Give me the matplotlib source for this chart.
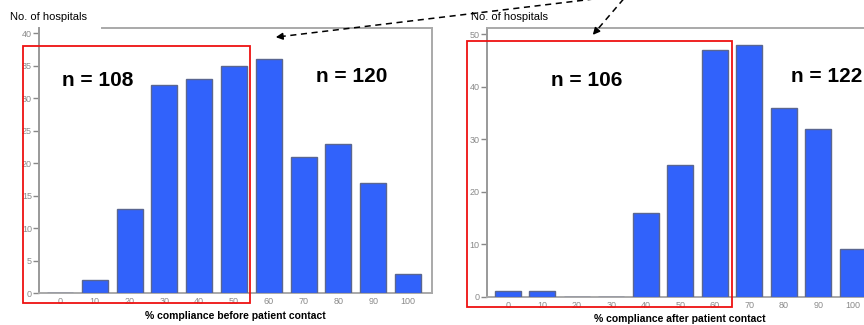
import matplotlib
matplotlib.use("Agg")
import matplotlib.pyplot as plt
from matplotlib import font_manager
from matplotlib.lines import Line2D
from matplotlib.patches import Rectangle

# ---- data ----
categories = [0, 10, 20, 30, 40, 50, 60, 70, 80, 90, 100]
before_counts = [0, 2, 13, 32, 33, 35, 36, 21, 23, 17, 3]
after_counts = [1, 1, 0, 0, 16, 25, 47, 48, 36, 32, 9]
before_ticks = [0, 5, 10, 15, 20, 25, 30, 35, 40]
after_ticks = [0, 10, 20, 30, 40, 50]
before_xlabel = "% compliance before patient contact"
after_xlabel = "% compliance after patient contact"
ylabel = "No. of hospitals"
before_notes = ["n = 108", "n = 120"]
after_notes = ["n = 106", "n = 122"]

names = {f.name for f in font_manager.fontManager.ttflist}
narrow = "Liberation Sans Narrow" if "Liberation Sans Narrow" in names else "Liberation Sans"

W, H = 864, 325
fig = plt.figure(figsize=(W / 100, H / 100), dpi=100)
fig.patch.set_facecolor("white")

def px(x0, y0, x1, y1):
    # pixel box (top-left origin) -> figure fraction
    return [x0 / W, 1 - y1 / H, (x1 - x0) / W, (y1 - y0) / H]

BAR = "#3162fb"
EDGE = "#5a6690"
SPINE = "#a9a9a9"

def make(ax, counts, ticks, ymax, xlabel, xlim):
    x = list(range(len(categories)))
    ax.bar(x, counts, width=0.75, color=BAR, edgecolor=EDGE, linewidth=1.0, zorder=3)
    ax.set_xlim(*xlim)
    ax.set_ylim(0, ymax)
    ax.set_xticks(x)
    ax.set_xticklabels([str(c) for c in categories], fontsize=6.5,
                       color="#8a8a8a", family=narrow)
    ax.set_yticks(ticks)
    ax.set_yticklabels([str(t) for t in ticks], fontsize=6.5,
                       color="#8a8a8a", family=narrow)
    ax.tick_params(axis="x", length=0, pad=3)
    ax.tick_params(axis="y", length=4, width=1, color="#888888", pad=1)
    for s in ax.spines.values():
        s.set_color(SPINE)
        s.set_linewidth(1.4)
    ax.spines["left"].set_color("#999999")
    ax.set_xlabel(xlabel, fontsize=7.5, fontweight="bold", family="Liberation Sans",
                  labelpad=3)

ax1 = fig.add_axes(px(39, 28, 432, 293.3))
make(ax1, before_counts, before_ticks, 40.8, before_xlabel, (-0.603, 10.69))
ax1.spines["top"].set_bounds(1.2, 10.69)

ax2 = fig.add_axes(px(486.7, 28, 873, 296.7))
make(ax2, after_counts, after_ticks, 51.2, after_xlabel, (-0.61, 10.59))

# y-axis titles
fig.text(10 / W, 1 - 17 / H, ylabel, fontsize=8, family=narrow, va="center", ha="left")
fig.text(471 / W, 1 - 17 / H, ylabel, fontsize=8, family=narrow, va="center", ha="left")

# n annotations
for xx, yy, t in [(98, 80, before_notes[0]), (352, 76, before_notes[1]),
                  (587, 80, after_notes[0]), (827, 76, after_notes[1])]:
    fig.text(xx / W, 1 - yy / H, t, fontsize=15, fontweight="bold",
             family="Liberation Sans", ha="center", va="center")

# red rectangles
for (x0, y0, x1, y1) in [(23, 46, 250, 302.7), (467.3, 40.7, 731.7, 306.7)]:
    fig.add_artist(Rectangle((x0 / W, 1 - y1 / H), (x1 - x0) / W, (y1 - y0) / H,
                             transform=fig.transFigure, fill=False,
                             edgecolor="#ee1111", linewidth=1.3, zorder=10))

# dashed arrows
src = (627, -5)
for tip in [(273, 37.5), (591, 37)]:
    dx, dy = tip[0] - src[0], tip[1] - src[1]
    L = (dx ** 2 + dy ** 2) ** 0.5
    back = (tip[0] - dx / L * 9, tip[1] - dy / L * 9)
    fig.add_artist(Line2D([src[0] / W, back[0] / W], [1 - src[1] / H, 1 - back[1] / H],
                          transform=fig.transFigure, color="black", linewidth=1.1,
                          linestyle=(0, (4, 3)), zorder=11))
    fig.add_artist(matplotlib.patches.FancyArrowPatch(
        (back[0] / W, 1 - back[1] / H), (tip[0] / W, 1 - tip[1] / H),
        transform=fig.transFigure, arrowstyle="-|>", mutation_scale=10,
        color="black", linewidth=1.1, zorder=11))

fig.savefig("out.png", dpi=100, facecolor="white")
